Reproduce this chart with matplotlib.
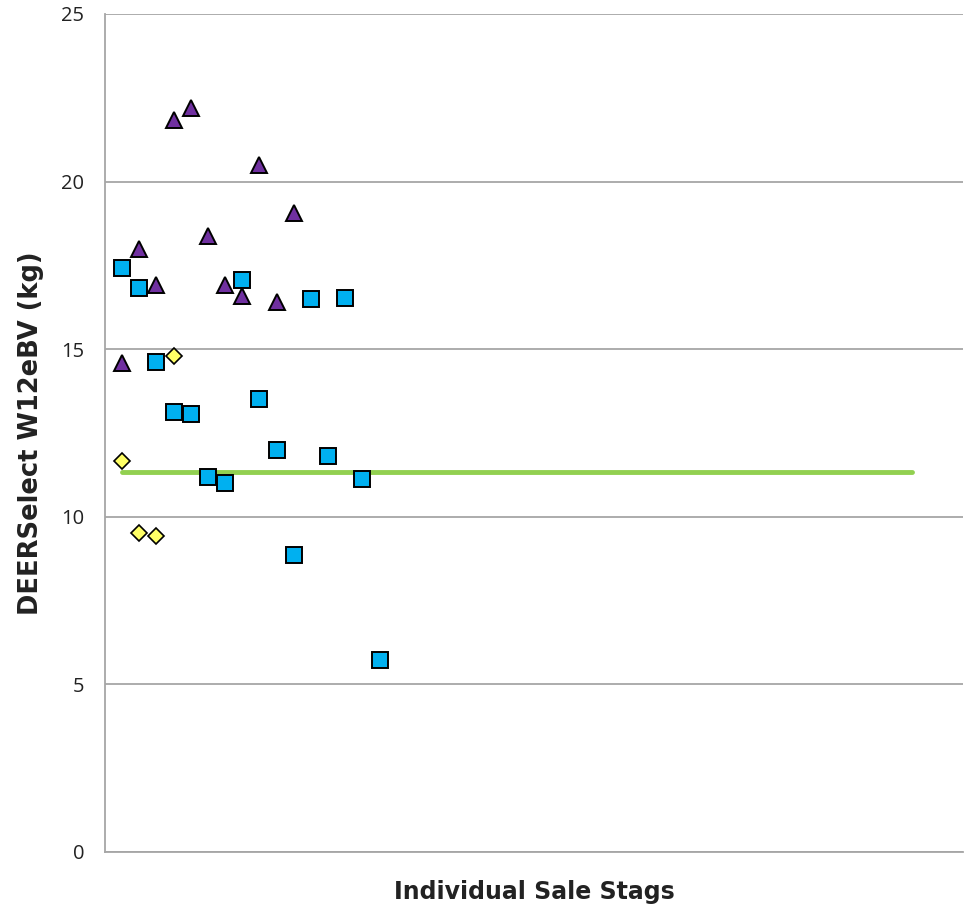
import matplotlib.pyplot as plt
import numpy as np

# values (kg)
triangles = [14.6, 18.0, 16.9, 21.85, 22.2, 18.38, 16.9, 16.6, 20.5, 16.42, 19.05]
squares = [17.42, 16.83, 14.62, 13.12, 13.07, 11.19, 11.02, 17.06, 13.51, 11.98,
           8.87, 16.5, 11.8, 16.53, 11.14, 5.73]
diamonds = [11.65, 9.52, 9.43, 14.8]
avg_value = 11.34
avg_span = [1, 47]

fig = plt.figure(figsize=(9.67, 9.05), dpi=100)
ax = fig.add_axes([0.1086, 0.0586, 0.8873, 0.926])

ax.plot(avg_span, [avg_value, avg_value], color='#92D050', lw=3.5, zorder=2,
        solid_capstyle='round')

ax.plot(np.arange(1, len(squares) + 1), squares, 's', ms=11.5, mfc='#00B0F0',
        mec='black', mew=1.4, ls='none', zorder=3)
ax.plot(np.arange(1, len(triangles) + 1), triangles, '^', ms=12, mfc='#7030A0',
        mec='black', mew=1.4, ls='none', zorder=4)
ax.plot(np.arange(1, len(diamonds) + 1), diamonds, 'D', ms=8.5, mfc='#FFFF66',
        mec='black', mew=1.2, ls='none', zorder=5)

ax.set_xlim(0, 50)
ax.set_ylim(0, 25)
ax.set_yticks([0, 5, 10, 15, 20, 25])
ax.set_xticks([])
ax.yaxis.grid(True, color='#A6A6A6', lw=1.3)
ax.set_axisbelow(True)
for s in ['top', 'right']:
    ax.spines[s].set_visible(False)
for s in ['left', 'bottom']:
    ax.spines[s].set_color('#A6A6A6')
    ax.spines[s].set_linewidth(1.3)
ax.tick_params(axis='y', length=0, pad=15, labelsize=14.5, labelcolor='#222222')
for t in ax.get_yticklabels():
    t.set_fontfamily('Open Sans')

ax.set_xlabel('Individual Sale Stags', fontsize=17, fontweight='bold',
              color='#222222', labelpad=20)
ax.set_ylabel('DEERSelect W12eBV (kg)', fontsize=18.5, fontweight='bold',
              color='#222222', labelpad=12)

plt.savefig('out.png', dpi=100)
